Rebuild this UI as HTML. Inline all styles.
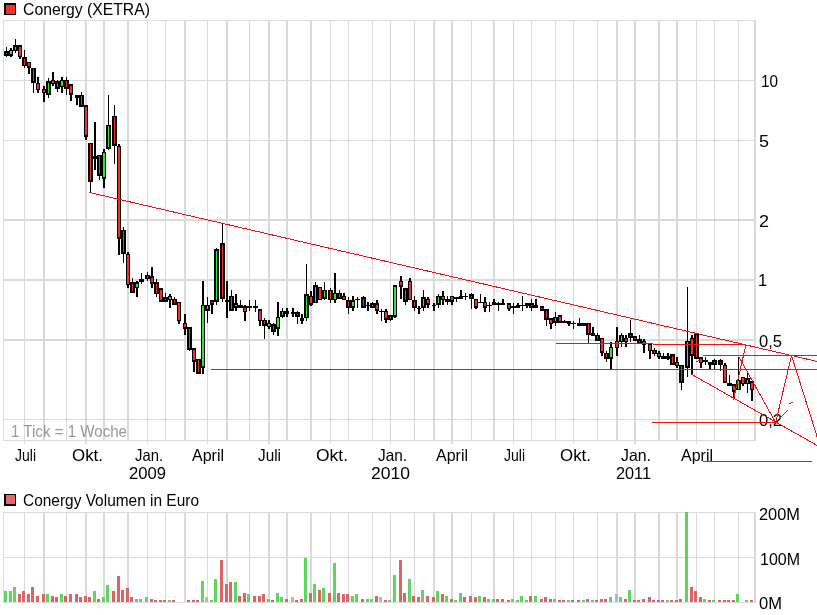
<!DOCTYPE html>
<html><head><meta charset="utf-8"><title>Conergy (XETRA)</title>
<style>html,body{margin:0;padding:0;background:#fff;width:817px;height:615px;overflow:hidden}svg{display:block}</style>
</head><body>
<svg width="817" height="615" viewBox="0 0 817 615">
<g fill="#dadada" shape-rendering="crispEdges">
<rect x="3" y="20" width="1" height="421"/>
<rect x="3" y="512" width="1" height="91"/>
<rect x="24" y="20" width="1" height="421"/>
<rect x="24" y="512" width="1" height="91"/>
<rect x="43" y="20" width="2" height="421"/>
<rect x="43" y="512" width="2" height="91"/>
<rect x="66" y="20" width="1" height="421"/>
<rect x="66" y="512" width="1" height="91"/>
<rect x="85" y="20" width="2" height="421"/>
<rect x="85" y="512" width="2" height="91"/>
<rect x="103" y="20" width="2" height="421"/>
<rect x="103" y="512" width="2" height="91"/>
<rect x="127" y="20" width="2" height="421"/>
<rect x="127" y="512" width="2" height="91"/>
<rect x="147" y="20" width="1" height="421"/>
<rect x="147" y="512" width="1" height="91"/>
<rect x="165" y="20" width="1" height="421"/>
<rect x="165" y="512" width="1" height="91"/>
<rect x="184" y="20" width="2" height="421"/>
<rect x="184" y="512" width="2" height="91"/>
<rect x="207" y="20" width="1" height="421"/>
<rect x="207" y="512" width="1" height="91"/>
<rect x="226" y="20" width="2" height="421"/>
<rect x="226" y="512" width="2" height="91"/>
<rect x="249" y="20" width="1" height="421"/>
<rect x="249" y="512" width="1" height="91"/>
<rect x="268" y="20" width="2" height="421"/>
<rect x="268" y="512" width="2" height="91"/>
<rect x="286" y="20" width="2" height="421"/>
<rect x="286" y="512" width="2" height="91"/>
<rect x="310" y="20" width="2" height="421"/>
<rect x="310" y="512" width="2" height="91"/>
<rect x="330" y="20" width="1" height="421"/>
<rect x="330" y="512" width="1" height="91"/>
<rect x="348" y="20" width="1" height="421"/>
<rect x="348" y="512" width="1" height="91"/>
<rect x="372" y="20" width="1" height="421"/>
<rect x="372" y="512" width="1" height="91"/>
<rect x="390" y="20" width="1" height="421"/>
<rect x="390" y="512" width="1" height="91"/>
<rect x="414" y="20" width="1" height="421"/>
<rect x="414" y="512" width="1" height="91"/>
<rect x="433" y="20" width="2" height="421"/>
<rect x="433" y="512" width="2" height="91"/>
<rect x="451" y="20" width="2" height="421"/>
<rect x="451" y="512" width="2" height="91"/>
<rect x="471" y="20" width="1" height="421"/>
<rect x="471" y="512" width="1" height="91"/>
<rect x="493" y="20" width="2" height="421"/>
<rect x="493" y="512" width="2" height="91"/>
<rect x="513" y="20" width="1" height="421"/>
<rect x="513" y="512" width="1" height="91"/>
<rect x="531" y="20" width="1" height="421"/>
<rect x="531" y="512" width="1" height="91"/>
<rect x="555" y="20" width="1" height="421"/>
<rect x="555" y="512" width="1" height="91"/>
<rect x="573" y="20" width="1" height="421"/>
<rect x="573" y="512" width="1" height="91"/>
<rect x="597" y="20" width="1" height="421"/>
<rect x="597" y="512" width="1" height="91"/>
<rect x="616" y="20" width="2" height="421"/>
<rect x="616" y="512" width="2" height="91"/>
<rect x="634" y="20" width="2" height="421"/>
<rect x="634" y="512" width="2" height="91"/>
<rect x="658" y="20" width="2" height="421"/>
<rect x="658" y="512" width="2" height="91"/>
<rect x="676" y="20" width="2" height="421"/>
<rect x="676" y="512" width="2" height="91"/>
<rect x="696" y="20" width="1" height="421"/>
<rect x="696" y="512" width="1" height="91"/>
<rect x="714" y="20" width="1" height="421"/>
<rect x="714" y="512" width="1" height="91"/>
<rect x="738" y="20" width="1" height="421"/>
<rect x="738" y="512" width="1" height="91"/>
<rect x="754" y="20" width="2" height="421"/>
<rect x="754" y="512" width="2" height="91"/>
<rect x="24" y="441" width="1" height="3"/>
<rect x="85" y="441" width="2" height="3"/>
<rect x="147" y="441" width="1" height="3"/>
<rect x="207" y="441" width="1" height="3"/>
<rect x="268" y="441" width="2" height="3"/>
<rect x="330" y="441" width="1" height="3"/>
<rect x="390" y="441" width="1" height="3"/>
<rect x="451" y="441" width="2" height="3"/>
<rect x="513" y="441" width="1" height="3"/>
<rect x="573" y="441" width="1" height="3"/>
<rect x="634" y="441" width="2" height="3"/>
<rect x="696" y="441" width="1" height="3"/>
<rect x="3" y="20" width="753" height="1"/>
<rect x="3" y="80" width="753" height="1"/>
<rect x="3" y="140" width="753" height="1"/>
<rect x="3" y="219" width="753" height="2"/>
<rect x="3" y="279" width="753" height="2"/>
<rect x="3" y="339" width="753" height="2"/>
<rect x="3" y="419" width="753" height="1"/>
<rect x="3" y="440" width="753" height="1"/>
<rect x="3" y="512" width="753" height="1"/>
<rect x="3" y="557" width="753" height="1"/>
<rect x="3" y="602" width="753" height="1"/>
</g>
<g shape-rendering="crispEdges">
<rect x="4" y="591" width="3" height="11" fill="#5cd65c"/>
<rect x="9" y="591" width="3" height="11" fill="#5cd65c"/>
<rect x="13" y="587" width="3" height="15" fill="#5cd65c"/>
<rect x="18" y="594" width="3" height="8" fill="#dc6464"/>
<rect x="22" y="591" width="3" height="11" fill="#dc6464"/>
<rect x="27" y="594" width="3" height="8" fill="#dc6464"/>
<rect x="31" y="587" width="3" height="15" fill="#dc6464"/>
<rect x="36" y="596" width="3" height="6" fill="#dc6464"/>
<rect x="42" y="594" width="3" height="8" fill="#dc6464"/>
<rect x="46" y="594" width="3" height="8" fill="#5cd65c"/>
<rect x="51" y="596" width="3" height="6" fill="#dc6464"/>
<rect x="55" y="597" width="3" height="5" fill="#dc6464"/>
<rect x="60" y="594" width="3" height="8" fill="#5cd65c"/>
<rect x="64" y="596" width="3" height="6" fill="#dc6464"/>
<rect x="69" y="594" width="3" height="8" fill="#dc6464"/>
<rect x="75" y="594" width="3" height="8" fill="#dc6464"/>
<rect x="79" y="597" width="3" height="5" fill="#dc6464"/>
<rect x="84" y="596" width="3" height="6" fill="#dc6464"/>
<rect x="88" y="597" width="3" height="5" fill="#dc6464"/>
<rect x="93" y="591" width="3" height="11" fill="#5cd65c"/>
<rect x="97" y="599" width="3" height="3" fill="#dc6464"/>
<rect x="102" y="597" width="3" height="5" fill="#5cd65c"/>
<rect x="106" y="585" width="3" height="17" fill="#5cd65c"/>
<rect x="112" y="591" width="3" height="11" fill="#dc6464"/>
<rect x="117" y="576" width="3" height="26" fill="#dc6464"/>
<rect x="121" y="590" width="3" height="12" fill="#dc6464"/>
<rect x="126" y="588" width="3" height="14" fill="#dc6464"/>
<rect x="130" y="597" width="3" height="5" fill="#dc6464"/>
<rect x="135" y="599" width="3" height="3" fill="#5cd65c"/>
<rect x="139" y="599" width="3" height="3" fill="#5cd65c"/>
<rect x="145" y="597" width="3" height="5" fill="#5cd65c"/>
<rect x="150" y="599" width="3" height="3" fill="#dc6464"/>
<rect x="154" y="600" width="3" height="2" fill="#dc6464"/>
<rect x="159" y="600" width="3" height="2" fill="#dc6464"/>
<rect x="163" y="600" width="3" height="2" fill="#dc6464"/>
<rect x="168" y="600" width="3" height="2" fill="#5cd65c"/>
<rect x="172" y="600" width="3" height="2" fill="#dc6464"/>
<rect x="187" y="600" width="3" height="2" fill="#dc6464"/>
<rect x="192" y="600" width="3" height="2" fill="#dc6464"/>
<rect x="196" y="600" width="3" height="2" fill="#dc6464"/>
<rect x="201" y="581" width="3" height="21" fill="#5cd65c"/>
<rect x="205" y="597" width="3" height="5" fill="#b8b8b8"/>
<rect x="210" y="600" width="3" height="2" fill="#5cd65c"/>
<rect x="214" y="579" width="3" height="23" fill="#5cd65c"/>
<rect x="220" y="560" width="3" height="42" fill="#dc6464"/>
<rect x="225" y="584" width="3" height="18" fill="#dc6464"/>
<rect x="229" y="582" width="3" height="20" fill="#dc6464"/>
<rect x="234" y="582" width="3" height="20" fill="#5cd65c"/>
<rect x="238" y="596" width="3" height="6" fill="#dc6464"/>
<rect x="243" y="593" width="3" height="9" fill="#dc6464"/>
<rect x="247" y="594" width="3" height="8" fill="#5cd65c"/>
<rect x="253" y="596" width="3" height="6" fill="#dc6464"/>
<rect x="258" y="596" width="3" height="6" fill="#dc6464"/>
<rect x="262" y="594" width="3" height="8" fill="#dc6464"/>
<rect x="267" y="599" width="3" height="3" fill="#5cd65c"/>
<rect x="271" y="600" width="3" height="2" fill="#dc6464"/>
<rect x="276" y="593" width="3" height="9" fill="#5cd65c"/>
<rect x="280" y="597" width="3" height="5" fill="#5cd65c"/>
<rect x="285" y="599" width="3" height="3" fill="#dc6464"/>
<rect x="291" y="597" width="3" height="5" fill="#b8b8b8"/>
<rect x="295" y="600" width="3" height="2" fill="#dc6464"/>
<rect x="300" y="599" width="3" height="3" fill="#dc6464"/>
<rect x="304" y="558" width="3" height="44" fill="#5cd65c"/>
<rect x="309" y="593" width="3" height="9" fill="#dc6464"/>
<rect x="313" y="584" width="3" height="18" fill="#5cd65c"/>
<rect x="318" y="590" width="3" height="12" fill="#dc6464"/>
<rect x="322" y="588" width="3" height="14" fill="#5cd65c"/>
<rect x="328" y="593" width="3" height="9" fill="#dc6464"/>
<rect x="333" y="563" width="3" height="39" fill="#5cd65c"/>
<rect x="337" y="593" width="3" height="9" fill="#dc6464"/>
<rect x="342" y="594" width="3" height="8" fill="#dc6464"/>
<rect x="346" y="594" width="3" height="8" fill="#dc6464"/>
<rect x="351" y="596" width="3" height="6" fill="#5cd65c"/>
<rect x="355" y="594" width="3" height="8" fill="#5cd65c"/>
<rect x="361" y="599" width="3" height="3" fill="#dc6464"/>
<rect x="366" y="599" width="3" height="3" fill="#5cd65c"/>
<rect x="370" y="599" width="3" height="3" fill="#5cd65c"/>
<rect x="375" y="596" width="3" height="6" fill="#dc6464"/>
<rect x="379" y="597" width="3" height="5" fill="#b8b8b8"/>
<rect x="384" y="600" width="3" height="2" fill="#dc6464"/>
<rect x="388" y="600" width="3" height="2" fill="#5cd65c"/>
<rect x="393" y="575" width="3" height="27" fill="#5cd65c"/>
<rect x="399" y="560" width="3" height="42" fill="#dc6464"/>
<rect x="403" y="593" width="3" height="9" fill="#dc6464"/>
<rect x="408" y="579" width="3" height="23" fill="#5cd65c"/>
<rect x="412" y="596" width="3" height="6" fill="#dc6464"/>
<rect x="417" y="597" width="3" height="5" fill="#dc6464"/>
<rect x="421" y="590" width="3" height="12" fill="#5cd65c"/>
<rect x="426" y="596" width="3" height="6" fill="#dc6464"/>
<rect x="432" y="597" width="3" height="5" fill="#dc6464"/>
<rect x="436" y="591" width="3" height="11" fill="#5cd65c"/>
<rect x="441" y="594" width="3" height="8" fill="#dc6464"/>
<rect x="445" y="596" width="3" height="6" fill="#5cd65c"/>
<rect x="450" y="599" width="3" height="3" fill="#dc6464"/>
<rect x="454" y="600" width="3" height="2" fill="#5cd65c"/>
<rect x="459" y="593" width="3" height="9" fill="#5cd65c"/>
<rect x="463" y="597" width="3" height="5" fill="#dc6464"/>
<rect x="469" y="596" width="3" height="6" fill="#dc6464"/>
<rect x="474" y="597" width="3" height="5" fill="#dc6464"/>
<rect x="478" y="596" width="3" height="6" fill="#5cd65c"/>
<rect x="483" y="597" width="3" height="5" fill="#dc6464"/>
<rect x="487" y="599" width="3" height="3" fill="#5cd65c"/>
<rect x="492" y="599" width="3" height="3" fill="#5cd65c"/>
<rect x="496" y="599" width="3" height="3" fill="#dc6464"/>
<rect x="501" y="599" width="3" height="3" fill="#dc6464"/>
<rect x="507" y="600" width="3" height="2" fill="#dc6464"/>
<rect x="511" y="599" width="3" height="3" fill="#5cd65c"/>
<rect x="516" y="600" width="3" height="2" fill="#5cd65c"/>
<rect x="520" y="596" width="3" height="6" fill="#5cd65c"/>
<rect x="525" y="600" width="3" height="2" fill="#5cd65c"/>
<rect x="529" y="596" width="3" height="6" fill="#dc6464"/>
<rect x="534" y="596" width="3" height="6" fill="#5cd65c"/>
<rect x="540" y="599" width="3" height="3" fill="#dc6464"/>
<rect x="544" y="597" width="3" height="5" fill="#dc6464"/>
<rect x="549" y="599" width="3" height="3" fill="#dc6464"/>
<rect x="553" y="599" width="3" height="3" fill="#5cd65c"/>
<rect x="558" y="600" width="3" height="2" fill="#dc6464"/>
<rect x="562" y="600" width="3" height="2" fill="#dc6464"/>
<rect x="567" y="600" width="3" height="2" fill="#5cd65c"/>
<rect x="571" y="600" width="3" height="2" fill="#dc6464"/>
<rect x="577" y="600" width="3" height="2" fill="#dc6464"/>
<rect x="582" y="600" width="3" height="2" fill="#5cd65c"/>
<rect x="586" y="599" width="3" height="3" fill="#dc6464"/>
<rect x="591" y="600" width="3" height="2" fill="#5cd65c"/>
<rect x="595" y="600" width="3" height="2" fill="#dc6464"/>
<rect x="600" y="599" width="3" height="3" fill="#dc6464"/>
<rect x="604" y="599" width="3" height="3" fill="#dc6464"/>
<rect x="609" y="597" width="3" height="5" fill="#5cd65c"/>
<rect x="615" y="594" width="3" height="8" fill="#b8b8b8"/>
<rect x="619" y="597" width="3" height="5" fill="#5cd65c"/>
<rect x="624" y="599" width="3" height="3" fill="#dc6464"/>
<rect x="628" y="590" width="3" height="12" fill="#5cd65c"/>
<rect x="633" y="600" width="3" height="2" fill="#dc6464"/>
<rect x="637" y="600" width="3" height="2" fill="#dc6464"/>
<rect x="642" y="599" width="3" height="3" fill="#dc6464"/>
<rect x="648" y="597" width="3" height="5" fill="#dc6464"/>
<rect x="652" y="600" width="3" height="2" fill="#dc6464"/>
<rect x="657" y="600" width="3" height="2" fill="#dc6464"/>
<rect x="661" y="600" width="3" height="2" fill="#dc6464"/>
<rect x="666" y="600" width="3" height="2" fill="#5cd65c"/>
<rect x="670" y="600" width="3" height="2" fill="#dc6464"/>
<rect x="675" y="600" width="3" height="2" fill="#dc6464"/>
<rect x="679" y="599" width="3" height="3" fill="#dc6464"/>
<rect x="685" y="512" width="3" height="90" fill="#5cd65c"/>
<rect x="690" y="587" width="3" height="15" fill="#dc6464"/>
<rect x="694" y="591" width="3" height="11" fill="#dc6464"/>
<rect x="699" y="597" width="3" height="5" fill="#dc6464"/>
<rect x="703" y="599" width="3" height="3" fill="#5cd65c"/>
<rect x="708" y="600" width="3" height="2" fill="#dc6464"/>
<rect x="712" y="600" width="3" height="2" fill="#5cd65c"/>
<rect x="718" y="600" width="3" height="2" fill="#dc6464"/>
<rect x="723" y="600" width="3" height="2" fill="#dc6464"/>
<rect x="727" y="600" width="3" height="2" fill="#dc6464"/>
<rect x="732" y="600" width="3" height="2" fill="#dc6464"/>
<rect x="736" y="594" width="3" height="8" fill="#5cd65c"/>
<rect x="745" y="600" width="3" height="2" fill="#5cd65c"/>
<rect x="750" y="600" width="3" height="2" fill="#dc6464"/>
</g>
<g shape-rendering="crispEdges">
<rect x="6" y="47" width="1" height="10" fill="#000"/>
<rect x="4" y="51" width="5" height="5" fill="#000"/>
<rect x="6" y="53" width="1" height="1" fill="#f23030"/>
<rect x="10" y="48" width="2" height="9" fill="#000"/>
<rect x="9" y="50" width="4" height="6" fill="#000"/>
<rect x="10" y="51" width="2" height="3" fill="#33e633"/>
<rect x="15" y="39" width="1" height="14" fill="#000"/>
<rect x="13" y="45" width="5" height="6" fill="#000"/>
<rect x="15" y="47" width="1" height="3" fill="#33e633"/>
<rect x="19" y="45" width="2" height="14" fill="#000"/>
<rect x="18" y="45" width="4" height="12" fill="#000"/>
<rect x="19" y="47" width="2" height="9" fill="#f23030"/>
<rect x="24" y="50" width="1" height="18" fill="#000"/>
<rect x="22" y="57" width="5" height="9" fill="#000"/>
<rect x="24" y="59" width="1" height="6" fill="#f23030"/>
<rect x="28" y="62" width="2" height="12" fill="#000"/>
<rect x="27" y="62" width="4" height="6" fill="#000"/>
<rect x="28" y="63" width="2" height="3" fill="#f23030"/>
<rect x="33" y="68" width="1" height="25" fill="#000"/>
<rect x="31" y="68" width="5" height="15" fill="#000"/>
<rect x="33" y="69" width="1" height="12" fill="#f23030"/>
<rect x="37" y="77" width="2" height="16" fill="#000"/>
<rect x="36" y="83" width="4" height="7" fill="#000"/>
<rect x="37" y="84" width="2" height="5" fill="#f23030"/>
<rect x="43" y="86" width="2" height="16" fill="#000"/>
<rect x="42" y="89" width="4" height="4" fill="#000"/>
<rect x="43" y="90" width="2" height="2" fill="#f23030"/>
<rect x="48" y="78" width="1" height="20" fill="#000"/>
<rect x="46" y="81" width="5" height="14" fill="#000"/>
<rect x="48" y="83" width="1" height="10" fill="#33e633"/>
<rect x="52" y="72" width="2" height="14" fill="#000"/>
<rect x="51" y="80" width="4" height="4" fill="#000"/>
<rect x="52" y="81" width="2" height="2" fill="#f23030"/>
<rect x="57" y="80" width="1" height="12" fill="#000"/>
<rect x="55" y="81" width="5" height="8" fill="#000"/>
<rect x="57" y="83" width="1" height="4" fill="#f23030"/>
<rect x="61" y="77" width="2" height="16" fill="#000"/>
<rect x="60" y="80" width="4" height="7" fill="#000"/>
<rect x="61" y="81" width="2" height="5" fill="#33e633"/>
<rect x="66" y="77" width="1" height="18" fill="#000"/>
<rect x="64" y="80" width="5" height="9" fill="#000"/>
<rect x="66" y="81" width="1" height="6" fill="#f23030"/>
<rect x="70" y="84" width="2" height="17" fill="#000"/>
<rect x="69" y="84" width="4" height="11" fill="#000"/>
<rect x="70" y="86" width="2" height="7" fill="#f23030"/>
<rect x="76" y="95" width="2" height="10" fill="#000"/>
<rect x="75" y="95" width="4" height="3" fill="#000"/>
<rect x="81" y="92" width="1" height="13" fill="#000"/>
<rect x="79" y="95" width="5" height="12" fill="#000"/>
<rect x="81" y="96" width="1" height="9" fill="#f23030"/>
<rect x="85" y="105" width="2" height="35" fill="#000"/>
<rect x="84" y="105" width="4" height="32" fill="#000"/>
<rect x="85" y="107" width="2" height="28" fill="#f23030"/>
<rect x="90" y="143" width="1" height="49" fill="#000"/>
<rect x="88" y="143" width="5" height="39" fill="#000"/>
<rect x="90" y="144" width="1" height="36" fill="#f23030"/>
<rect x="94" y="122" width="2" height="48" fill="#000"/>
<rect x="93" y="156" width="4" height="3" fill="#000"/>
<rect x="99" y="155" width="1" height="25" fill="#000"/>
<rect x="97" y="155" width="5" height="21" fill="#000"/>
<rect x="99" y="156" width="1" height="18" fill="#f23030"/>
<rect x="103" y="149" width="2" height="39" fill="#000"/>
<rect x="102" y="152" width="4" height="27" fill="#000"/>
<rect x="103" y="153" width="2" height="24" fill="#33e633"/>
<rect x="108" y="95" width="1" height="55" fill="#000"/>
<rect x="106" y="125" width="5" height="24" fill="#000"/>
<rect x="108" y="126" width="1" height="21" fill="#33e633"/>
<rect x="114" y="105" width="1" height="59" fill="#000"/>
<rect x="112" y="116" width="5" height="30" fill="#000"/>
<rect x="114" y="117" width="1" height="27" fill="#f23030"/>
<rect x="118" y="144" width="2" height="111" fill="#000"/>
<rect x="117" y="146" width="4" height="93" fill="#000"/>
<rect x="118" y="147" width="2" height="90" fill="#f23030"/>
<rect x="123" y="227" width="1" height="36" fill="#000"/>
<rect x="121" y="230" width="5" height="24" fill="#000"/>
<rect x="123" y="231" width="1" height="21" fill="#f23030"/>
<rect x="127" y="252" width="2" height="36" fill="#000"/>
<rect x="126" y="254" width="4" height="31" fill="#000"/>
<rect x="127" y="255" width="2" height="29" fill="#f23030"/>
<rect x="132" y="278" width="1" height="15" fill="#000"/>
<rect x="130" y="282" width="5" height="11" fill="#000"/>
<rect x="132" y="284" width="1" height="7" fill="#f23030"/>
<rect x="136" y="281" width="2" height="16" fill="#000"/>
<rect x="135" y="282" width="4" height="6" fill="#000"/>
<rect x="136" y="284" width="2" height="3" fill="#33e633"/>
<rect x="141" y="273" width="1" height="11" fill="#000"/>
<rect x="139" y="279" width="5" height="3" fill="#000"/>
<rect x="147" y="272" width="1" height="9" fill="#000"/>
<rect x="145" y="275" width="5" height="4" fill="#000"/>
<rect x="147" y="276" width="1" height="2" fill="#f23030"/>
<rect x="151" y="267" width="2" height="21" fill="#000"/>
<rect x="150" y="276" width="4" height="8" fill="#000"/>
<rect x="151" y="278" width="2" height="4" fill="#f23030"/>
<rect x="156" y="279" width="1" height="18" fill="#000"/>
<rect x="154" y="282" width="5" height="12" fill="#000"/>
<rect x="156" y="284" width="1" height="9" fill="#f23030"/>
<rect x="160" y="288" width="2" height="14" fill="#000"/>
<rect x="159" y="288" width="4" height="14" fill="#000"/>
<rect x="160" y="290" width="2" height="10" fill="#f23030"/>
<rect x="165" y="293" width="1" height="7" fill="#000"/>
<rect x="163" y="297" width="5" height="5" fill="#000"/>
<rect x="165" y="299" width="1" height="1" fill="#f23030"/>
<rect x="169" y="294" width="2" height="14" fill="#000"/>
<rect x="168" y="296" width="4" height="4" fill="#000"/>
<rect x="169" y="297" width="2" height="2" fill="#33e633"/>
<rect x="174" y="297" width="1" height="8" fill="#000"/>
<rect x="172" y="299" width="5" height="6" fill="#000"/>
<rect x="174" y="300" width="1" height="3" fill="#f23030"/>
<rect x="178" y="302" width="2" height="22" fill="#000"/>
<rect x="177" y="302" width="4" height="19" fill="#000"/>
<rect x="178" y="303" width="2" height="17" fill="#f23030"/>
<rect x="184" y="314" width="2" height="21" fill="#000"/>
<rect x="183" y="323" width="4" height="6" fill="#000"/>
<rect x="184" y="324" width="2" height="3" fill="#f23030"/>
<rect x="189" y="327" width="1" height="24" fill="#000"/>
<rect x="187" y="327" width="5" height="23" fill="#000"/>
<rect x="189" y="329" width="1" height="19" fill="#f23030"/>
<rect x="193" y="348" width="2" height="24" fill="#000"/>
<rect x="192" y="348" width="4" height="14" fill="#000"/>
<rect x="193" y="350" width="2" height="10" fill="#f23030"/>
<rect x="198" y="359" width="1" height="15" fill="#000"/>
<rect x="196" y="359" width="5" height="15" fill="#000"/>
<rect x="198" y="360" width="1" height="12" fill="#f23030"/>
<rect x="202" y="281" width="2" height="93" fill="#000"/>
<rect x="201" y="305" width="4" height="63" fill="#000"/>
<rect x="202" y="306" width="2" height="60" fill="#33e633"/>
<rect x="207" y="297" width="1" height="26" fill="#000"/>
<rect x="205" y="305" width="5" height="6" fill="#000"/>
<rect x="207" y="306" width="1" height="3" fill="#33e633"/>
<rect x="211" y="300" width="2" height="14" fill="#000"/>
<rect x="210" y="300" width="4" height="5" fill="#000"/>
<rect x="211" y="302" width="2" height="1" fill="#f23030"/>
<rect x="216" y="248" width="1" height="57" fill="#000"/>
<rect x="214" y="249" width="5" height="53" fill="#000"/>
<rect x="216" y="251" width="1" height="49" fill="#33e633"/>
<rect x="222" y="224" width="1" height="78" fill="#000"/>
<rect x="220" y="243" width="5" height="56" fill="#000"/>
<rect x="222" y="245" width="1" height="52" fill="#f23030"/>
<rect x="226" y="281" width="2" height="37" fill="#000"/>
<rect x="225" y="300" width="4" height="2" fill="#000"/>
<rect x="231" y="290" width="1" height="21" fill="#000"/>
<rect x="229" y="296" width="5" height="15" fill="#000"/>
<rect x="231" y="297" width="1" height="12" fill="#f23030"/>
<rect x="235" y="294" width="2" height="17" fill="#000"/>
<rect x="234" y="303" width="4" height="5" fill="#000"/>
<rect x="235" y="305" width="2" height="1" fill="#33e633"/>
<rect x="240" y="300" width="1" height="8" fill="#000"/>
<rect x="238" y="305" width="5" height="3" fill="#000"/>
<rect x="244" y="305" width="2" height="16" fill="#000"/>
<rect x="243" y="306" width="4" height="6" fill="#000"/>
<rect x="244" y="308" width="2" height="3" fill="#f23030"/>
<rect x="249" y="300" width="1" height="11" fill="#000"/>
<rect x="247" y="306" width="5" height="2" fill="#000"/>
<rect x="255" y="300" width="1" height="12" fill="#000"/>
<rect x="253" y="306" width="5" height="2" fill="#000"/>
<rect x="259" y="309" width="2" height="17" fill="#000"/>
<rect x="258" y="309" width="4" height="12" fill="#000"/>
<rect x="259" y="311" width="2" height="9" fill="#f23030"/>
<rect x="264" y="318" width="1" height="21" fill="#000"/>
<rect x="262" y="320" width="5" height="6" fill="#000"/>
<rect x="264" y="321" width="1" height="3" fill="#f23030"/>
<rect x="268" y="320" width="2" height="9" fill="#000"/>
<rect x="267" y="323" width="4" height="4" fill="#000"/>
<rect x="268" y="324" width="2" height="2" fill="#33e633"/>
<rect x="273" y="323" width="1" height="12" fill="#000"/>
<rect x="271" y="324" width="5" height="8" fill="#000"/>
<rect x="273" y="326" width="1" height="4" fill="#f23030"/>
<rect x="277" y="302" width="2" height="34" fill="#000"/>
<rect x="276" y="317" width="4" height="12" fill="#000"/>
<rect x="277" y="318" width="2" height="9" fill="#33e633"/>
<rect x="282" y="308" width="1" height="10" fill="#000"/>
<rect x="280" y="311" width="5" height="6" fill="#000"/>
<rect x="282" y="312" width="1" height="3" fill="#33e633"/>
<rect x="286" y="308" width="2" height="9" fill="#000"/>
<rect x="285" y="311" width="4" height="3" fill="#000"/>
<rect x="292" y="308" width="2" height="9" fill="#000"/>
<rect x="291" y="312" width="4" height="2" fill="#000"/>
<rect x="297" y="311" width="1" height="13" fill="#000"/>
<rect x="295" y="312" width="5" height="5" fill="#000"/>
<rect x="297" y="314" width="1" height="1" fill="#f23030"/>
<rect x="301" y="314" width="2" height="10" fill="#000"/>
<rect x="300" y="318" width="4" height="3" fill="#000"/>
<rect x="306" y="264" width="1" height="57" fill="#000"/>
<rect x="304" y="294" width="5" height="24" fill="#000"/>
<rect x="306" y="296" width="1" height="21" fill="#33e633"/>
<rect x="310" y="291" width="2" height="15" fill="#000"/>
<rect x="309" y="296" width="4" height="9" fill="#000"/>
<rect x="310" y="297" width="2" height="6" fill="#f23030"/>
<rect x="315" y="282" width="1" height="21" fill="#000"/>
<rect x="313" y="285" width="5" height="18" fill="#000"/>
<rect x="315" y="287" width="1" height="15" fill="#33e633"/>
<rect x="319" y="287" width="2" height="13" fill="#000"/>
<rect x="318" y="287" width="4" height="13" fill="#000"/>
<rect x="319" y="288" width="2" height="11" fill="#f23030"/>
<rect x="324" y="282" width="1" height="18" fill="#000"/>
<rect x="322" y="290" width="5" height="9" fill="#000"/>
<rect x="324" y="291" width="1" height="6" fill="#33e633"/>
<rect x="330" y="288" width="1" height="15" fill="#000"/>
<rect x="328" y="290" width="5" height="10" fill="#000"/>
<rect x="330" y="291" width="1" height="8" fill="#f23030"/>
<rect x="334" y="273" width="2" height="30" fill="#000"/>
<rect x="333" y="293" width="4" height="7" fill="#000"/>
<rect x="334" y="294" width="2" height="5" fill="#33e633"/>
<rect x="339" y="290" width="1" height="9" fill="#000"/>
<rect x="337" y="293" width="5" height="6" fill="#000"/>
<rect x="339" y="294" width="1" height="3" fill="#f23030"/>
<rect x="343" y="293" width="2" height="7" fill="#000"/>
<rect x="342" y="296" width="4" height="4" fill="#000"/>
<rect x="343" y="297" width="2" height="2" fill="#f23030"/>
<rect x="348" y="297" width="1" height="17" fill="#000"/>
<rect x="346" y="300" width="5" height="8" fill="#000"/>
<rect x="348" y="302" width="1" height="4" fill="#f23030"/>
<rect x="352" y="296" width="2" height="15" fill="#000"/>
<rect x="351" y="300" width="4" height="8" fill="#000"/>
<rect x="352" y="302" width="2" height="4" fill="#33e633"/>
<rect x="357" y="297" width="1" height="11" fill="#000"/>
<rect x="355" y="299" width="5" height="1" fill="#000"/>
<rect x="363" y="296" width="1" height="12" fill="#000"/>
<rect x="361" y="297" width="5" height="11" fill="#000"/>
<rect x="363" y="299" width="1" height="7" fill="#f23030"/>
<rect x="367" y="302" width="2" height="9" fill="#000"/>
<rect x="366" y="305" width="4" height="1" fill="#000"/>
<rect x="372" y="302" width="1" height="6" fill="#000"/>
<rect x="370" y="303" width="5" height="5" fill="#000"/>
<rect x="372" y="305" width="1" height="1" fill="#33e633"/>
<rect x="376" y="300" width="2" height="14" fill="#000"/>
<rect x="375" y="303" width="4" height="8" fill="#000"/>
<rect x="376" y="305" width="2" height="4" fill="#f23030"/>
<rect x="381" y="309" width="1" height="12" fill="#000"/>
<rect x="379" y="311" width="5" height="1" fill="#000"/>
<rect x="385" y="309" width="2" height="14" fill="#000"/>
<rect x="384" y="311" width="4" height="9" fill="#000"/>
<rect x="385" y="312" width="2" height="6" fill="#f23030"/>
<rect x="390" y="315" width="1" height="6" fill="#000"/>
<rect x="388" y="315" width="5" height="5" fill="#000"/>
<rect x="390" y="317" width="1" height="1" fill="#33e633"/>
<rect x="394" y="285" width="2" height="33" fill="#000"/>
<rect x="393" y="285" width="4" height="32" fill="#000"/>
<rect x="394" y="287" width="2" height="28" fill="#33e633"/>
<rect x="400" y="276" width="2" height="23" fill="#000"/>
<rect x="399" y="281" width="4" height="6" fill="#000"/>
<rect x="400" y="282" width="2" height="3" fill="#f23030"/>
<rect x="405" y="288" width="1" height="17" fill="#000"/>
<rect x="403" y="288" width="5" height="14" fill="#000"/>
<rect x="405" y="290" width="1" height="10" fill="#f23030"/>
<rect x="409" y="278" width="2" height="22" fill="#000"/>
<rect x="408" y="281" width="4" height="19" fill="#000"/>
<rect x="409" y="282" width="2" height="17" fill="#f23030"/>
<rect x="414" y="296" width="1" height="15" fill="#000"/>
<rect x="412" y="300" width="5" height="8" fill="#000"/>
<rect x="414" y="302" width="1" height="4" fill="#f23030"/>
<rect x="418" y="306" width="2" height="8" fill="#000"/>
<rect x="417" y="308" width="4" height="1" fill="#000"/>
<rect x="423" y="290" width="1" height="21" fill="#000"/>
<rect x="421" y="297" width="5" height="11" fill="#000"/>
<rect x="423" y="299" width="1" height="7" fill="#33e633"/>
<rect x="427" y="297" width="2" height="11" fill="#000"/>
<rect x="426" y="299" width="4" height="6" fill="#000"/>
<rect x="427" y="300" width="2" height="3" fill="#f23030"/>
<rect x="433" y="303" width="2" height="8" fill="#000"/>
<rect x="432" y="305" width="4" height="1" fill="#000"/>
<rect x="438" y="294" width="1" height="14" fill="#000"/>
<rect x="436" y="296" width="5" height="9" fill="#000"/>
<rect x="438" y="297" width="1" height="6" fill="#33e633"/>
<rect x="442" y="291" width="2" height="14" fill="#000"/>
<rect x="441" y="296" width="4" height="4" fill="#000"/>
<rect x="442" y="297" width="2" height="2" fill="#f23030"/>
<rect x="447" y="296" width="1" height="9" fill="#000"/>
<rect x="445" y="299" width="5" height="3" fill="#000"/>
<rect x="451" y="296" width="2" height="9" fill="#000"/>
<rect x="450" y="296" width="4" height="6" fill="#000"/>
<rect x="451" y="297" width="2" height="3" fill="#f23030"/>
<rect x="456" y="297" width="1" height="5" fill="#000"/>
<rect x="454" y="297" width="5" height="2" fill="#000"/>
<rect x="460" y="290" width="2" height="9" fill="#000"/>
<rect x="459" y="296" width="4" height="3" fill="#000"/>
<rect x="465" y="293" width="1" height="7" fill="#000"/>
<rect x="463" y="296" width="5" height="1" fill="#000"/>
<rect x="471" y="293" width="1" height="16" fill="#000"/>
<rect x="469" y="294" width="5" height="5" fill="#000"/>
<rect x="471" y="296" width="1" height="1" fill="#f23030"/>
<rect x="475" y="299" width="2" height="10" fill="#000"/>
<rect x="474" y="299" width="4" height="9" fill="#000"/>
<rect x="475" y="300" width="2" height="6" fill="#f23030"/>
<rect x="480" y="294" width="1" height="9" fill="#000"/>
<rect x="478" y="302" width="5" height="1" fill="#000"/>
<rect x="484" y="297" width="2" height="15" fill="#000"/>
<rect x="483" y="302" width="4" height="6" fill="#000"/>
<rect x="484" y="303" width="2" height="3" fill="#f23030"/>
<rect x="489" y="302" width="1" height="10" fill="#000"/>
<rect x="487" y="305" width="5" height="1" fill="#000"/>
<rect x="493" y="299" width="2" height="6" fill="#000"/>
<rect x="492" y="302" width="4" height="3" fill="#000"/>
<rect x="498" y="302" width="1" height="9" fill="#000"/>
<rect x="496" y="303" width="5" height="2" fill="#000"/>
<rect x="502" y="299" width="2" height="6" fill="#000"/>
<rect x="501" y="303" width="4" height="2" fill="#000"/>
<rect x="508" y="303" width="2" height="8" fill="#000"/>
<rect x="507" y="303" width="4" height="6" fill="#000"/>
<rect x="508" y="305" width="2" height="3" fill="#f23030"/>
<rect x="513" y="303" width="1" height="11" fill="#000"/>
<rect x="511" y="306" width="5" height="2" fill="#000"/>
<rect x="517" y="303" width="2" height="5" fill="#000"/>
<rect x="516" y="305" width="4" height="3" fill="#000"/>
<rect x="522" y="296" width="1" height="15" fill="#000"/>
<rect x="520" y="305" width="5" height="1" fill="#000"/>
<rect x="526" y="303" width="2" height="5" fill="#000"/>
<rect x="525" y="303" width="4" height="3" fill="#000"/>
<rect x="531" y="299" width="1" height="12" fill="#000"/>
<rect x="529" y="303" width="5" height="5" fill="#000"/>
<rect x="531" y="305" width="1" height="1" fill="#f23030"/>
<rect x="535" y="299" width="2" height="9" fill="#000"/>
<rect x="534" y="305" width="4" height="3" fill="#000"/>
<rect x="541" y="306" width="2" height="5" fill="#000"/>
<rect x="540" y="306" width="4" height="5" fill="#000"/>
<rect x="541" y="308" width="2" height="1" fill="#f23030"/>
<rect x="546" y="309" width="1" height="17" fill="#000"/>
<rect x="544" y="309" width="5" height="11" fill="#000"/>
<rect x="546" y="311" width="1" height="7" fill="#f23030"/>
<rect x="550" y="318" width="2" height="11" fill="#000"/>
<rect x="549" y="318" width="4" height="6" fill="#000"/>
<rect x="550" y="320" width="2" height="3" fill="#f23030"/>
<rect x="555" y="312" width="1" height="14" fill="#000"/>
<rect x="553" y="317" width="5" height="6" fill="#000"/>
<rect x="555" y="318" width="1" height="3" fill="#33e633"/>
<rect x="559" y="315" width="2" height="8" fill="#000"/>
<rect x="558" y="315" width="4" height="8" fill="#000"/>
<rect x="559" y="317" width="2" height="4" fill="#f23030"/>
<rect x="564" y="320" width="1" height="3" fill="#000"/>
<rect x="562" y="321" width="5" height="2" fill="#000"/>
<rect x="568" y="321" width="2" height="5" fill="#000"/>
<rect x="567" y="321" width="4" height="3" fill="#000"/>
<rect x="573" y="321" width="1" height="8" fill="#000"/>
<rect x="571" y="323" width="5" height="1" fill="#000"/>
<rect x="579" y="318" width="1" height="8" fill="#000"/>
<rect x="577" y="323" width="5" height="3" fill="#000"/>
<rect x="583" y="323" width="2" height="3" fill="#000"/>
<rect x="582" y="323" width="4" height="3" fill="#000"/>
<rect x="588" y="323" width="1" height="21" fill="#000"/>
<rect x="586" y="323" width="5" height="12" fill="#000"/>
<rect x="588" y="324" width="1" height="9" fill="#f23030"/>
<rect x="592" y="327" width="2" height="9" fill="#000"/>
<rect x="591" y="333" width="4" height="3" fill="#000"/>
<rect x="597" y="333" width="1" height="8" fill="#000"/>
<rect x="595" y="335" width="5" height="6" fill="#000"/>
<rect x="597" y="336" width="1" height="3" fill="#f23030"/>
<rect x="601" y="338" width="2" height="18" fill="#000"/>
<rect x="600" y="338" width="4" height="15" fill="#000"/>
<rect x="601" y="339" width="2" height="12" fill="#f23030"/>
<rect x="606" y="351" width="1" height="11" fill="#000"/>
<rect x="604" y="353" width="5" height="6" fill="#000"/>
<rect x="606" y="354" width="1" height="3" fill="#f23030"/>
<rect x="610" y="342" width="2" height="27" fill="#000"/>
<rect x="609" y="347" width="4" height="12" fill="#000"/>
<rect x="610" y="348" width="2" height="9" fill="#33e633"/>
<rect x="616" y="327" width="2" height="29" fill="#000"/>
<rect x="615" y="341" width="4" height="7" fill="#000"/>
<rect x="616" y="342" width="2" height="5" fill="#f23030"/>
<rect x="621" y="333" width="1" height="14" fill="#000"/>
<rect x="619" y="335" width="5" height="7" fill="#000"/>
<rect x="621" y="336" width="1" height="5" fill="#33e633"/>
<rect x="625" y="335" width="2" height="12" fill="#000"/>
<rect x="624" y="338" width="4" height="4" fill="#000"/>
<rect x="625" y="339" width="2" height="2" fill="#f23030"/>
<rect x="630" y="320" width="1" height="22" fill="#000"/>
<rect x="628" y="333" width="5" height="5" fill="#000"/>
<rect x="630" y="335" width="1" height="1" fill="#f23030"/>
<rect x="634" y="336" width="2" height="5" fill="#000"/>
<rect x="633" y="336" width="4" height="5" fill="#000"/>
<rect x="634" y="338" width="2" height="1" fill="#f23030"/>
<rect x="639" y="335" width="1" height="7" fill="#000"/>
<rect x="637" y="339" width="5" height="5" fill="#000"/>
<rect x="639" y="341" width="1" height="1" fill="#f23030"/>
<rect x="643" y="339" width="2" height="14" fill="#000"/>
<rect x="642" y="341" width="4" height="4" fill="#000"/>
<rect x="643" y="342" width="2" height="2" fill="#f23030"/>
<rect x="649" y="344" width="2" height="15" fill="#000"/>
<rect x="648" y="344" width="4" height="7" fill="#000"/>
<rect x="649" y="345" width="2" height="5" fill="#f23030"/>
<rect x="654" y="348" width="1" height="8" fill="#000"/>
<rect x="652" y="350" width="5" height="4" fill="#000"/>
<rect x="654" y="351" width="1" height="2" fill="#f23030"/>
<rect x="658" y="351" width="2" height="8" fill="#000"/>
<rect x="657" y="353" width="4" height="4" fill="#000"/>
<rect x="658" y="354" width="2" height="2" fill="#f23030"/>
<rect x="663" y="353" width="1" height="6" fill="#000"/>
<rect x="661" y="356" width="5" height="3" fill="#000"/>
<rect x="667" y="353" width="2" height="7" fill="#000"/>
<rect x="666" y="356" width="4" height="3" fill="#000"/>
<rect x="672" y="354" width="1" height="11" fill="#000"/>
<rect x="670" y="354" width="5" height="11" fill="#000"/>
<rect x="672" y="356" width="1" height="7" fill="#f23030"/>
<rect x="676" y="357" width="2" height="11" fill="#000"/>
<rect x="675" y="362" width="4" height="4" fill="#000"/>
<rect x="676" y="363" width="2" height="2" fill="#f23030"/>
<rect x="681" y="365" width="1" height="25" fill="#000"/>
<rect x="679" y="365" width="5" height="18" fill="#000"/>
<rect x="681" y="366" width="1" height="15" fill="#f23030"/>
<rect x="687" y="287" width="1" height="90" fill="#000"/>
<rect x="685" y="341" width="5" height="27" fill="#000"/>
<rect x="687" y="342" width="1" height="24" fill="#33e633"/>
<rect x="691" y="335" width="2" height="39" fill="#000"/>
<rect x="690" y="338" width="4" height="18" fill="#000"/>
<rect x="691" y="339" width="2" height="15" fill="#f23030"/>
<rect x="696" y="333" width="1" height="26" fill="#000"/>
<rect x="694" y="333" width="5" height="26" fill="#000"/>
<rect x="696" y="335" width="1" height="22" fill="#f23030"/>
<rect x="700" y="357" width="2" height="11" fill="#000"/>
<rect x="699" y="357" width="4" height="6" fill="#000"/>
<rect x="700" y="359" width="2" height="3" fill="#f23030"/>
<rect x="705" y="357" width="1" height="8" fill="#000"/>
<rect x="703" y="360" width="5" height="2" fill="#000"/>
<rect x="709" y="362" width="2" height="7" fill="#000"/>
<rect x="708" y="362" width="4" height="3" fill="#000"/>
<rect x="714" y="359" width="1" height="10" fill="#000"/>
<rect x="712" y="360" width="5" height="5" fill="#000"/>
<rect x="714" y="362" width="1" height="1" fill="#33e633"/>
<rect x="720" y="359" width="1" height="12" fill="#000"/>
<rect x="718" y="360" width="5" height="5" fill="#000"/>
<rect x="720" y="362" width="1" height="1" fill="#f23030"/>
<rect x="724" y="363" width="2" height="20" fill="#000"/>
<rect x="723" y="365" width="4" height="18" fill="#000"/>
<rect x="724" y="366" width="2" height="15" fill="#f23030"/>
<rect x="729" y="375" width="1" height="11" fill="#000"/>
<rect x="727" y="383" width="5" height="3" fill="#000"/>
<rect x="733" y="384" width="2" height="14" fill="#000"/>
<rect x="732" y="384" width="4" height="8" fill="#000"/>
<rect x="733" y="386" width="2" height="4" fill="#f23030"/>
<rect x="738" y="357" width="1" height="32" fill="#000"/>
<rect x="736" y="380" width="5" height="10" fill="#000"/>
<rect x="738" y="381" width="1" height="8" fill="#33e633"/>
<rect x="742" y="377" width="2" height="9" fill="#000"/>
<rect x="741" y="377" width="4" height="7" fill="#000"/>
<rect x="742" y="378" width="2" height="5" fill="#f23030"/>
<rect x="747" y="372" width="1" height="21" fill="#000"/>
<rect x="745" y="378" width="5" height="6" fill="#000"/>
<rect x="747" y="380" width="1" height="3" fill="#33e633"/>
<rect x="751" y="381" width="2" height="20" fill="#000"/>
<rect x="750" y="381" width="4" height="9" fill="#000"/>
<rect x="751" y="383" width="2" height="6" fill="#f23030"/>
</g>
<g shape-rendering="crispEdges">
<rect x="4" y="3" width="12" height="12" fill="#000"/>
<rect x="6" y="5" width="9" height="9" fill="#f23030"/>
<rect x="4" y="494" width="12" height="12" fill="#000"/>
<rect x="6" y="495" width="9" height="9" fill="#e06868"/>
</g>
<g font-family="Liberation Sans, Arial, sans-serif">
<text x="23.00" y="15.00" font-size="16.5" fill="#000" textLength="127.00" lengthAdjust="spacingAndGlyphs">Conergy (XETRA)</text>
<text x="23.00" y="506.00" font-size="16.5" fill="#000" textLength="176.00" lengthAdjust="spacingAndGlyphs">Conergy Volumen in Euro</text>
<text x="11.00" y="437.00" font-size="16.5" fill="#999999" textLength="116.00" lengthAdjust="spacingAndGlyphs">1 Tick = 1 Woche</text>
<text x="761.00" y="87.00" font-size="16.5" fill="#000" textLength="17.00" lengthAdjust="spacingAndGlyphs">10</text>
<text x="759.00" y="147.00" font-size="16.5" fill="#000" textLength="10.00" lengthAdjust="spacingAndGlyphs">5</text>
<text x="759.00" y="227.00" font-size="16.5" fill="#000" textLength="10.00" lengthAdjust="spacingAndGlyphs">2</text>
<text x="758.00" y="286.00" font-size="16.5" fill="#000">1</text>
<text x="759.00" y="347.00" font-size="16.5" fill="#000" textLength="23.00" lengthAdjust="spacingAndGlyphs">0,5</text>
<text x="759.00" y="426.00" font-size="16.5" fill="#000" textLength="23.00" lengthAdjust="spacingAndGlyphs">0,2</text>
<text x="759.00" y="520.00" font-size="16.5" fill="#000" textLength="41.00" lengthAdjust="spacingAndGlyphs">200M</text>
<text x="760.00" y="565.00" font-size="16.5" fill="#000" textLength="40.00" lengthAdjust="spacingAndGlyphs">100M</text>
<text x="759.00" y="609.00" font-size="16.5" fill="#000" textLength="23.00" lengthAdjust="spacingAndGlyphs">0M</text>
<text x="15.00" y="461.00" font-size="16.5" fill="#000" textLength="21.00" lengthAdjust="spacingAndGlyphs">Juli</text>
<text x="72.00" y="461.00" font-size="16.5" fill="#000" textLength="31.00" lengthAdjust="spacingAndGlyphs">Okt.</text>
<text x="135.00" y="461.00" font-size="16.5" fill="#000" textLength="28.00" lengthAdjust="spacingAndGlyphs">Jan.</text>
<text x="192.00" y="461.00" font-size="16.5" fill="#000" textLength="32.00" lengthAdjust="spacingAndGlyphs">April</text>
<text x="258.00" y="461.00" font-size="16.5" fill="#000" textLength="23.00" lengthAdjust="spacingAndGlyphs">Juli</text>
<text x="316.00" y="461.00" font-size="16.5" fill="#000" textLength="32.00" lengthAdjust="spacingAndGlyphs">Okt.</text>
<text x="378.00" y="461.00" font-size="16.5" fill="#000" textLength="29.00" lengthAdjust="spacingAndGlyphs">Jan.</text>
<text x="436.00" y="461.00" font-size="16.5" fill="#000" textLength="32.00" lengthAdjust="spacingAndGlyphs">April</text>
<text x="504.00" y="461.00" font-size="16.5" fill="#000" textLength="21.00" lengthAdjust="spacingAndGlyphs">Juli</text>
<text x="560.00" y="461.00" font-size="16.5" fill="#000" textLength="31.00" lengthAdjust="spacingAndGlyphs">Okt.</text>
<text x="621.00" y="461.00" font-size="16.5" fill="#000" textLength="30.00" lengthAdjust="spacingAndGlyphs">Jan.</text>
<text x="681.00" y="461.00" font-size="16.5" fill="#000" textLength="32.00" lengthAdjust="spacingAndGlyphs">April</text>
<text x="129.00" y="479.00" font-size="16.5" fill="#000" textLength="37.00" lengthAdjust="spacingAndGlyphs">2009</text>
<text x="371.00" y="479.00" font-size="16.5" fill="#000" textLength="39.00" lengthAdjust="spacingAndGlyphs">2010</text>
<text x="616.00" y="479.00" font-size="16.5" fill="#000" textLength="35.00" lengthAdjust="spacingAndGlyphs">2011</text>
</g>
<g stroke="#f01010" stroke-width="1" fill="none" shape-rendering="crispEdges">
<line x1="89.3" y1="192.45" x2="817" y2="361.45"/>
<line x1="211" y1="369.5" x2="817" y2="369.5"/>
<line x1="556" y1="343.6" x2="746" y2="344.4"/>
<line x1="703" y1="355.5" x2="817" y2="355.5"/>
<line x1="691" y1="374" x2="817" y2="445.4"/>
<line x1="652" y1="422.5" x2="775.7" y2="422.5"/>
<line x1="703" y1="461.3" x2="812" y2="461.3"/>
<line x1="746" y1="344.4" x2="733.3" y2="400"/>
<line x1="739.1" y1="357.2" x2="775.7" y2="422.6"/>
<line x1="775.7" y1="422.6" x2="791.5" y2="355.6"/>
<line x1="791.5" y1="355.6" x2="817" y2="436.4"/>
<line x1="775.7" y1="422.6" x2="788.2" y2="409.6"/>
<line x1="789" y1="403.4" x2="792.7" y2="402.5"/>
<line x1="696" y1="361.5" x2="701" y2="360"/>
</g>
</svg>
</body></html>
